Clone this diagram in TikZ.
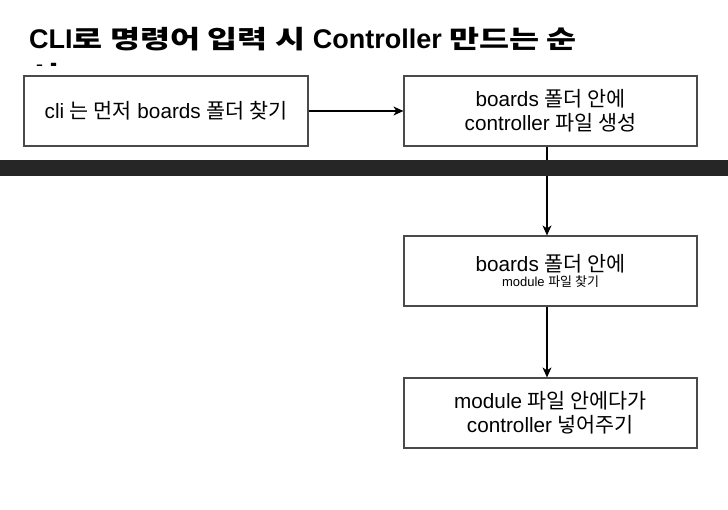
\documentclass[tikz,border=0pt]{standalone}
\usepackage{fontspec}
\setmainfont{Liberation Sans}
\newfontfamily\kr{Noto Sans CJK KR}[BoldFont={Noto Sans CJK KR Bold}]
\newfontfamily\krt{Noto Sans CJK KR Bold}[Scale=0.93, FakeStretch=1.3]
\usetikzlibrary{arrows.meta}
\definecolor{boxline}{HTML}{4A4A4A}
\tikzset{
  flowbox/.style={draw=boxline, line width=1.2pt, fill=white, minimum height=70pt, inner sep=0pt, align=center, font=\fontsize{20.7}{23.5}\selectfont},
  conn/.style={line width=1.1pt, -{Stealth[length=10pt,width=9pt,inset=3pt]}},
  titlefont/.style={font=\fontsize{27}{35}\selectfont\bfseries},
}
\begin{document}
\begin{tikzpicture}[x=1pt,y=-1pt]
\useasboundingbox (0,0) rectangle (728,510);
\fill[white] (0,0) rectangle (728,510);
% title
\node[anchor=base west, inner sep=0pt, titlefont] (title) at (29,49) {CLI{\krt 로 명령어 입력 시} Controller {\krt 만드는 순}};
\begin{scope}
\clip (0,0) rectangle (728,66);
\node[anchor=base west, inner sep=0pt, titlefont] (title2) at (29,85) {{\krt 서}};
\end{scope}
% boxes
\node[flowbox, minimum width=284pt] (b1) at (166,111) {cli {\kr 는 먼저} boards {\kr 폴더 찾기}};
\node[flowbox, minimum width=293pt] (b2) at (550.5,111) {boards {\kr 폴더 안에}\\controller {\kr 파일 생성}};
\node[flowbox, minimum width=293pt] (b3) at (550.5,271) {boards {\kr 폴더 안에}\\[-8.5pt]{\fontsize{13}{15}\selectfont module {\kr 파일 찾기}}};
\node[flowbox, minimum width=293pt] (b4) at (550.5,413) {module {\kr 파일 안에다가}\\controller {\kr 넣어주기}};
% connectors
\draw[conn] (b1.east) -- (b2.west);
\draw[conn] (b2.south -| 547,0) -- (b3.north -| 547,0);
\draw[conn] (b3.south -| 547,0) -- (b4.north -| 547,0);
% dark bar
\fill[black!85] (0,160) rectangle (728,176);
\end{tikzpicture}
\end{document}
